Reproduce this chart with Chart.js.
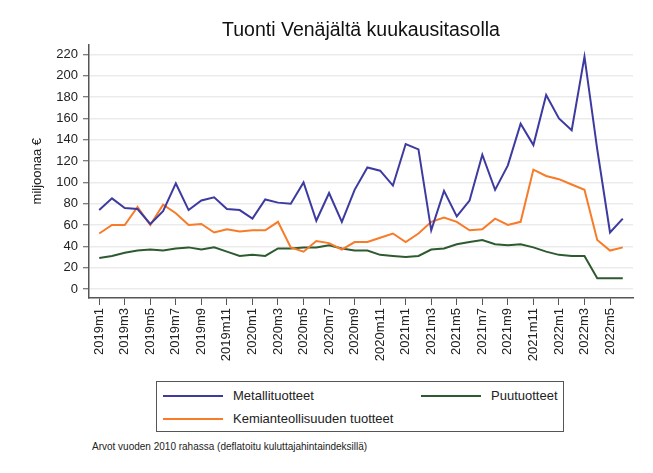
<!DOCTYPE html>
<html>
<head>
<meta charset="utf-8">
<script src="https://cdn.jsdelivr.net/npm/chart.js@4"></script>
<style>
  body { margin: 0; background: #fff; font-family: "Liberation Sans", Arial, sans-serif; }
  #wrap { position: relative; width: 653px; height: 473px; }
  #chartBox { position: absolute; left: 0; top: 0; width: 653px; height: 373px; }
  #legend { position: absolute; left: 156px; top: 381px; width: 408px; height: 51px; border: 1px solid #555; box-sizing: border-box; font-size: 13px; color: #222; }
  .item { position: absolute; display: flex; align-items: center; }
  .item span.ln { display: inline-block; width: 60px; height: 2px; margin-right: 10px; }
  #note { position: absolute; left: 92px; top: 441px; font-size: 10px; color: #222; }
</style>
</head>
<body>
<div id="wrap">
  <div id="chartBox"><canvas id="myChart" width="653" height="373"></canvas></div>
  <div id="legend">
    <div class="item" style="left:6px;top:6px"><span class="ln" style="background:#3d3aa0"></span>Metallituotteet</div>
    <div class="item" style="left:264px;top:6px"><span class="ln" style="background:#2e5a30"></span>Puutuotteet</div>
    <div class="item" style="left:6px;top:29px"><span class="ln" style="background:#f77b28"></span>Kemianteollisuuden tuotteet</div>
  </div>
  <div id="note">Arvot vuoden 2010 rahassa (deflatoitu kuluttajahintaindeksillä)</div>
</div>
<script>
const kuukaudet = [];
for (let v = 2019; v <= 2022; v++) {
  for (let k = 1; k <= 12; k++) {
    if (v === 2022 && k > 6) break;
    kuukaudet.push(v + 'm' + k);
  }
}

const metalli = [74, 85, 76, 75, 61, 73, 99, 74, 83, 86, 75, 74,
  66, 84, 81, 80, 100, 64, 90, 63, 93, 114, 111, 97,
  136, 131, 55, 92, 68, 83, 126, 93, 116, 155, 135, 182,
  160, 149, 218, 131, 53, 66];
const kemia = [52, 60, 60, 77, 60, 79, 71, 60, 61, 53, 56, 54,
  55, 55, 63, 39, 35, 45, 43, 37, 44, 44, 48, 52,
  44, 52, 63, 67, 63, 55, 56, 66, 60, 63, 112, 106,
  103, 98, 93, 46, 36, 39];
const puu = [29, 31, 34, 36, 37, 36, 38, 39, 37, 39, 35, 31,
  32, 31, 38, 38, 39, 39, 41, 38, 36, 36, 32, 31,
  30, 31, 37, 38, 42, 44, 46, 42, 41, 42, 39, 35,
  32, 31, 31, 10, 10, 10];

const fontti = "'Liberation Sans', Arial, sans-serif";
Chart.defaults.font.family = fontti;
Chart.defaults.color = '#222';

function sarja(nimi, arvot, vari) {
  return {
    label: nimi,
    data: arvot.map((y, i) => ({ x: i, y: y })),
    borderColor: vari,
    backgroundColor: vari,
    borderWidth: 2,
    pointRadius: 0,
    tension: 0
  };
}

new Chart(document.getElementById('myChart'), {
  type: 'line',
  data: {
    datasets: [
      sarja('Metallituotteet', metalli, '#3d3aa0'),
      sarja('Kemianteollisuuden tuotteet', kemia, '#f77b28'),
      sarja('Puutuotteet', puu, '#2e5a30')
    ]
  },
  options: {
    responsive: false,
    animation: false,
    layout: { padding: { left: 26, right: 20, top: 0, bottom: 0 } },
    plugins: {
      legend: { display: false },
      tooltip: { enabled: false },
      title: {
        display: true,
        fullSize: false,
        text: 'Tuonti Venäjältä kuukausitasolla',
        color: '#111',
        font: { size: 19.5, weight: 'normal' },
        padding: { top: 19, bottom: 2 }
      }
    },
    scales: {
      x: {
        type: 'linear',
        min: -0.8,
        max: 41.8,
        afterFit: s => { s.height = 75; },
        grid: { drawOnChartArea: false, tickLength: 7, tickColor: '#555', tickWidth: 1 },
        border: { color: '#555', width: 1.5 },
        ticks: {
          stepSize: 2,
          includeBounds: false,
          autoSkip: false,
          maxRotation: 90,
          minRotation: 90,
          padding: 3,
          font: { size: 13 },
          callback: v => kuukaudet[v] || ''
        }
      },
      y: {
        min: -8.5,
        max: 229.5,
        afterFit: s => { s.width = 63; },
        grid: { color: '#ebebeb', lineWidth: 1.5, tickLength: 6, tickColor: '#555', tickWidth: 1 },
        border: { color: '#555', width: 1.5 },
        ticks: { stepSize: 20, includeBounds: false, padding: 5, font: { size: 13 } },
        title: { display: true, text: 'miljoonaa €', font: { size: 13 }, padding: 4 }
      }
    }
  }
});
</script>
</body>
</html>
